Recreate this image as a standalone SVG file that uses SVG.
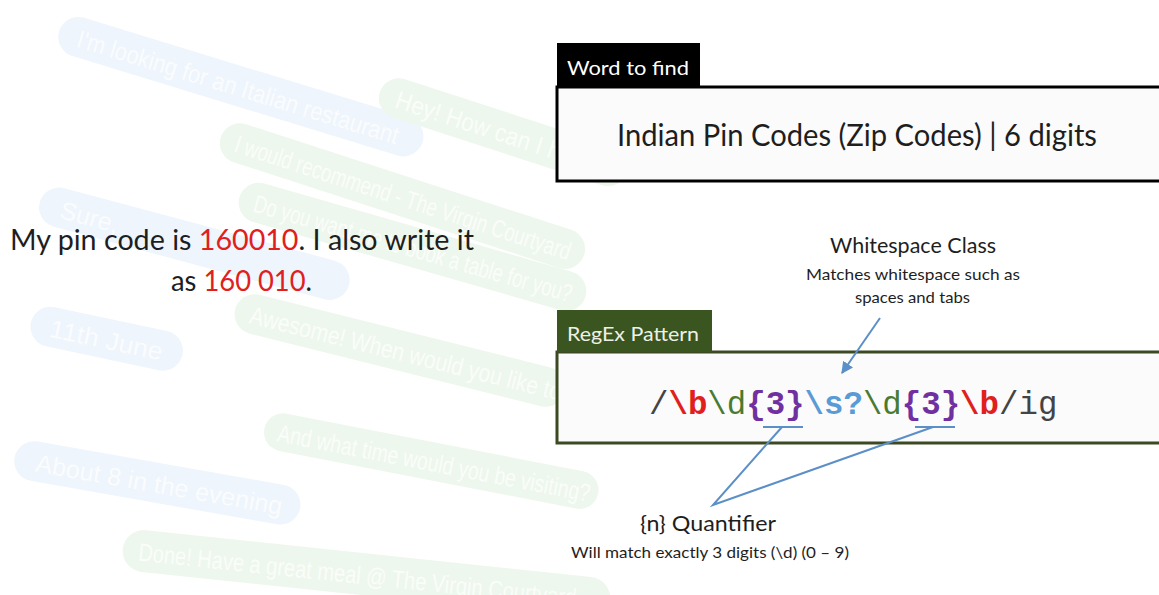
<svg xmlns="http://www.w3.org/2000/svg" width="1159" height="595" viewBox="0 0 1159 595">
<style>
.sans{font-family:Lato,"Open Sans","Liberation Sans",sans-serif}
.mono{font-family:"Liberation Mono","Courier New",monospace;font-size:32.4px}
.bb{fill:#eef5fc}
.gb{fill:#eef7ed}
.bt{font-family:"Liberation Sans",Arial,sans-serif;font-size:25px;fill:#fafcfe}
.gt{font-family:"Liberation Sans",Arial,sans-serif;font-size:25px;fill:#fafdf9}
.conn{stroke:#5b8fc7;stroke-width:2;fill:none}
.red{fill:#e0201c}
</style>
<defs>
<marker id="ah" viewBox="0 0 10 10" refX="9" refY="5" markerWidth="6" markerHeight="6" orient="auto">
<path d="M0,0 L10,5 L0,10 z" fill="#5b8fc7"/>
</marker>
</defs>
<rect width="1159" height="595" fill="#ffffff"/>
<g id="background-chat">
<g transform="translate(65,12) rotate(17)"><rect class="bb" width="380" height="40" rx="20"/><text class="bt" x="20" y="30" textLength="335" lengthAdjust="spacingAndGlyphs">I'm looking for an Italian restaurant</text></g>
<g transform="translate(386,73) rotate(18)"><rect class="gb" width="260" height="40" rx="20"/><text class="gt" x="18" y="30" textLength="215" lengthAdjust="spacingAndGlyphs">Hey! How can I help?</text></g>
<g transform="translate(227,118) rotate(18)"><rect class="gb" width="382" height="40" rx="20"/><text class="gt" x="16" y="30" textLength="352" lengthAdjust="spacingAndGlyphs">I would recommend - The Virgin Courtyard</text></g>
<g transform="translate(245,178) rotate(16)"><rect class="gb" width="360" height="40" rx="20"/><text class="gt" x="16" y="30" textLength="330" lengthAdjust="spacingAndGlyphs">Do you want me to book a table for you?</text></g>
<g transform="translate(45,183) rotate(15)"><rect class="bb" width="320" height="40" rx="20"/><text class="bt" x="22" y="30">Sure,</text></g>
<g transform="translate(35,303) rotate(12)"><rect class="bb" width="155" height="40" rx="20"/><text class="bt" x="20" y="30" textLength="115" lengthAdjust="spacingAndGlyphs">11th June</text></g>
<g transform="translate(240,290) rotate(14)"><rect class="gb" width="340" height="40" rx="20"/><text class="gt" x="16" y="30" textLength="320" lengthAdjust="spacingAndGlyphs">Awesome! When would you like to</text></g>
<g transform="translate(268,410) rotate(11)"><rect class="gb" width="340" height="38" rx="19"/><text class="gt" x="14" y="29" textLength="318" lengthAdjust="spacingAndGlyphs">And what time would you be visiting?</text></g>
<g transform="translate(18,438) rotate(10)"><rect class="bb" width="290" height="40" rx="20"/><text class="bt" x="22" y="30" textLength="250" lengthAdjust="spacingAndGlyphs">About 8 in the evening</text></g>
<g transform="translate(125,528) rotate(6)"><rect class="gb" width="490" height="42" rx="21"/><text class="gt" x="16" y="31" textLength="440" lengthAdjust="spacingAndGlyphs">Done! Have a great meal @ The Virgin Courtyard</text></g>
</g>
<g id="sentence">
<text class="sans" x="10" y="250" font-size="29" fill="#1e1e1e" textLength="464" lengthAdjust="spacingAndGlyphs">My pin code is <tspan class="red">160010</tspan>. I also write it</text>
<text class="sans" x="171" y="291" font-size="29" fill="#1e1e1e" textLength="141" lengthAdjust="spacingAndGlyphs">as <tspan class="red">160 010</tspan>.</text>
</g>
<g id="word-to-find">
<rect x="557" y="87" width="604" height="94" fill="#fbfbfb" stroke="#000" stroke-width="3"/>
<rect x="557" y="43" width="143" height="44" fill="#000"/>
<text class="sans" x="567" y="75" font-size="20" fill="#ffffff" textLength="122" lengthAdjust="spacingAndGlyphs">Word to find</text>
<text class="sans" x="617" y="146" font-size="30" fill="#1e1e1e" textLength="480" lengthAdjust="spacingAndGlyphs">Indian Pin Codes (Zip Codes) | 6 digits</text>
</g>
<g id="whitespace-class">
<text class="sans" x="830" y="253" font-size="21" fill="#1e1e1e" textLength="166" lengthAdjust="spacingAndGlyphs">Whitespace Class</text>
<text class="sans" x="806" y="280" font-size="16" fill="#1e1e1e" textLength="214" lengthAdjust="spacingAndGlyphs">Matches whitespace such as</text>
<text class="sans" x="855" y="303" font-size="16" fill="#1e1e1e" textLength="115" lengthAdjust="spacingAndGlyphs">spaces and tabs</text>
</g>
<g id="regex-pattern">
<rect x="557" y="352" width="604" height="91" fill="#fbfbfb" stroke="#3b4a23" stroke-width="3"/>
<rect x="557" y="310" width="155" height="42" fill="#3a5520"/>
<text class="sans" x="567" y="341" font-size="20" fill="#eef0e6" textLength="132" lengthAdjust="spacingAndGlyphs">RegEx Pattern</text>
<text class="mono" x="649" y="414"><tspan fill="#444">/</tspan><tspan fill="#e0201c" font-weight="bold">\b</tspan><tspan fill="#4a7a30">\d</tspan><tspan fill="#7030a0" font-weight="bold">{3}</tspan><tspan fill="#5b9bd5" font-weight="bold">\s?</tspan><tspan fill="#4a7a30">\d</tspan><tspan fill="#7030a0" font-weight="bold">{3}</tspan><tspan fill="#e0201c" font-weight="bold">\b</tspan><tspan fill="#444">/ig</tspan></text>
</g>
<g id="quantifier">
<text class="sans" x="640" y="531" font-size="22" fill="#1e1e1e" textLength="136" lengthAdjust="spacingAndGlyphs">{n} Quantifier</text>
<text class="sans" x="571" y="558" font-size="16" fill="#1e1e1e" textLength="278" lengthAdjust="spacingAndGlyphs">Will match exactly 3 digits (\d) (0 – 9)</text>
</g>
<g id="connectors">
<line class="conn" x1="880" y1="318" x2="842" y2="373" marker-end="url(#ah)"/>
<line class="conn" x1="763" y1="427" x2="803" y2="427" stroke-width="3"/>
<line class="conn" x1="915" y1="427" x2="955" y2="427" stroke-width="3"/>
<polyline class="conn" points="782,427 713,505 933,427"/>
</g>
</svg>
